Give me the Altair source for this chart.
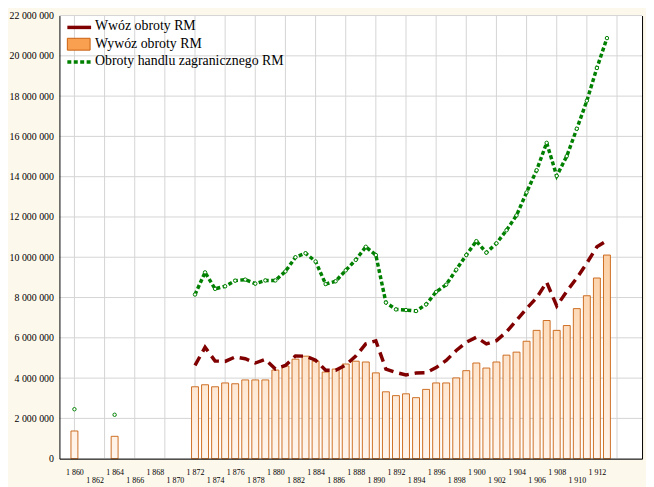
import altair as alt

# ---------------- data (values in millions RM) ----------------
years_export = [1860, 1864,
                1872, 1873, 1874, 1875, 1876, 1877, 1878, 1879, 1880, 1881,
                1882, 1883, 1884, 1885, 1886, 1887, 1888, 1889, 1890, 1891,
                1892, 1893, 1894, 1895, 1896, 1897, 1898, 1899, 1900, 1901,
                1902, 1903, 1904, 1905, 1906, 1907, 1908, 1909, 1910, 1911,
                1912, 1913]
export_m = [1.375, 1.11,
            3.57, 3.67, 3.57, 3.76, 3.72, 3.91, 3.91, 3.91, 4.40, 4.60,
            4.94, 5.09, 4.84, 4.30, 4.45, 4.70, 4.84, 4.80, 4.26, 3.32,
            3.13, 3.22, 3.03, 3.44, 3.76, 3.76, 4.01, 4.37, 4.75, 4.50,
            4.80, 5.14, 5.29, 5.83, 6.37, 6.86, 6.37, 6.61, 7.45, 8.09,
            8.97, 10.11]

years_import = [1872, 1873, 1874, 1875, 1876, 1877, 1878, 1879, 1880, 1881,
                1882, 1883, 1884, 1885, 1886, 1887, 1888, 1889, 1890, 1891,
                1892, 1893, 1894, 1895, 1896, 1897, 1898, 1899, 1900, 1901,
                1902, 1903, 1904, 1905, 1906, 1907, 1908, 1909, 1910, 1911,
                1912, 1913]
import_m = [4.63, 5.53, 4.85, 4.83, 5.05, 4.96, 4.75, 4.93, 4.45, 4.63,
            5.10, 5.09, 4.89, 4.39, 4.39, 4.65, 5.09, 5.70, 5.85, 4.45,
            4.28, 4.16, 4.25, 4.27, 4.52, 4.88, 5.37, 5.78, 6.03, 5.70,
            5.86, 6.30, 6.87, 7.45, 7.99, 8.76, 7.58, 8.31, 8.97, 9.71,
            10.52, 10.82]

years_total = years_export
total_m = [2.455, 2.18,
           8.15, 9.25, 8.43, 8.56, 8.84, 8.89, 8.69, 8.85, 8.85, 9.30,
           10.00, 10.20, 9.79, 8.67, 8.81, 9.35, 9.87, 10.52, 10.11, 7.75,
           7.41, 7.38, 7.33, 7.66, 8.28, 8.64, 9.38, 10.11, 10.80, 10.23,
           10.69, 11.34, 12.08, 13.22, 14.32, 15.68, 14.04, 15.02, 16.38, 17.77,
           19.40, 20.88]

y_ticks = [0, 2e6, 4e6, 6e6, 8e6, 10e6, 12e6, 14e6, 16e6, 18e6, 20e6, 22e6]
grid_years = [1860, 1863, 1866, 1869, 1872, 1875, 1878, 1881, 1884, 1887, 1890,
              1893, 1896, 1899, 1902, 1905, 1908, 1911, 1914]
label_row1 = [1860, 1864, 1868, 1872, 1876, 1880, 1884, 1888, 1892, 1896,
              1900, 1904, 1908, 1912]
label_row2 = [1862, 1866, 1870, 1874, 1878, 1882, 1886, 1890, 1894, 1898,
              1902, 1906, 1910]

legend_labels = ["Wwóz obroty RM", "Wywóz obroty RM", "Obroty handlu zagranicznego RM"]

# ---------------- style ----------------
BG = "#fdf8ec"
FONT = "Liberation Serif"
RED = "#800000"
GREEN = "#008000"
BAR_STROKE = "#c8600f"
GRID = "#d4d4d4"
W, H = 589, 448


def mix(t):
    pale = (255, 245, 237)
    org = (249, 172, 95)
    c = [round(p + (o - p) * t) for p, o in zip(pale, org)]
    return "#%02x%02x%02x" % tuple(c)


bar_rows = []
for yr, v in zip(years_export, export_m):
    t = min(v / 20.0, 1.0)
    bar_rows.append({
        "year": yr,
        "value": v * 1e6,
        "grad": {"gradient": "linear", "x1": 0, "y1": 0, "x2": 0, "y2": 1,
                 "stops": [{"offset": 0, "color": mix(t)},
                           {"offset": 1, "color": mix(0.0)}]},
    })
imp_rows = [{"year": yr, "value": v * 1e6} for yr, v in zip(years_import, import_m)]
tot_rows = [{"year": yr, "value": v * 1e6} for yr, v in zip(years_total, total_m)]
tot_line_rows = [r for r in tot_rows if r["year"] >= 1872]

xscale = alt.Scale(domain=[1859, 1916], nice=False, zero=False)
yscale = alt.Scale(domain=[0, 22e6], nice=False)

one = alt.Data(values=[{"k": 0}])

# white plot-area background
plot_bg = alt.Chart(one).mark_rect(fill="white", strokeWidth=0).encode(
    x=alt.value(0), x2=alt.value(W), y=alt.value(0), y2=alt.value(H))

# grid lines drawn as rules through the scales
ygrid = alt.Chart(alt.Data(values=[{"v": v} for v in y_ticks])).mark_rule(
    color=GRID, strokeWidth=1
).encode(y=alt.Y("v:Q", scale=yscale, axis=None))
xgrid = alt.Chart(alt.Data(values=[{"v": v} for v in grid_years])).mark_rule(
    color=GRID, strokeWidth=1
).encode(x=alt.X("v:Q", scale=xscale, axis=None))

bars = alt.Chart(alt.Data(values=bar_rows)).mark_bar(
    size=7, stroke=BAR_STROKE, strokeWidth=0.9
).encode(
    x=alt.X("year:Q", scale=xscale,
            axis=alt.Axis(orient="bottom", values=grid_years, labels=False, grid=False,
                          domainColor="black", ticks=False, title=None, zindex=1)),
    y=alt.Y("value:Q", scale=yscale,
            axis=alt.Axis(orient="left", values=y_ticks, grid=False,
                          domainColor="black", tickSize=0, labelPadding=6,
                          labelFont=FONT, labelFontSize=10, labelColor="black",
                          format=",d", title=None, zindex=1)),
    fill=alt.Fill("grad:N", scale=None, legend=None),
)

red = alt.Chart(alt.Data(values=imp_rows)).mark_line(
    color=RED, strokeWidth=3.5, strokeDash=[10, 6]
).encode(
    x=alt.X("year:Q", scale=xscale,
            axis=alt.Axis(orient="bottom", values=label_row1, grid=False, domain=False,
                          ticks=False, labelPadding=10, labelFont=FONT, labelFontSize=8,
                          labelColor="black", format=",d", title=None, zindex=1)),
    y=alt.Y("value:Q", scale=yscale,
            axis=alt.Axis(orient="right", labels=False, grid=False, ticks=False,
                          domainColor="black", title=None, zindex=1)),
)

green = alt.Chart(alt.Data(values=tot_line_rows)).mark_line(
    color=GREEN, strokeWidth=3.5, strokeDash=[4, 2.5]
).encode(
    x=alt.X("year:Q", scale=xscale,
            axis=alt.Axis(orient="bottom", values=label_row2, grid=False, domain=False,
                          ticks=False, labelPadding=18, labelFont=FONT, labelFontSize=8,
                          labelColor="black", format=",d", title=None, zindex=1)),
    y=alt.Y("value:Q", scale=yscale, axis=None),
)

pts = alt.Chart(alt.Data(values=tot_rows)).mark_point(
    shape="circle", size=12, filled=True, fill="white", stroke=GREEN, strokeWidth=1, opacity=1
).encode(
    x=alt.X("year:Q", scale=xscale, axis=None),
    y=alt.Y("value:Q", scale=yscale, axis=None),
)

leg_red = alt.Chart(one).mark_rule(color=RED, strokeWidth=3.5).encode(
    x=alt.value(8), x2=alt.value(32), y=alt.value(12))
leg_rect = alt.Chart(one).mark_rect(fill="#f9a050", stroke=BAR_STROKE, strokeWidth=1).encode(
    x=alt.value(8), x2=alt.value(31), y=alt.value(23), y2=alt.value(35))
leg_green = alt.Chart(one).mark_rule(color=GREEN, strokeWidth=3.5, strokeDash=[4, 2.5]).encode(
    x=alt.value(8), x2=alt.value(32), y=alt.value(47))
leg_texts = [
    alt.Chart(one).mark_text(align="left", baseline="middle", font=FONT, fontSize=14,
                             color="black").encode(
        x=alt.value(36), y=alt.value(yy), text=alt.value(lbl))
    for lbl, yy in zip(legend_labels, [11, 29, 46])
]

chart = alt.layer(
    plot_bg, ygrid, xgrid, bars, red, green, pts,
    leg_red, leg_rect, leg_green, *leg_texts
).resolve_axis(
    x="independent", y="independent"
).properties(
    width=W, height=H, background=BG,
    padding={"left": 52, "top": 5, "right": 4, "bottom": 26},
    autosize=alt.AutoSizeParams(type="none"),
).configure(
    locale={"number": {"decimal": ",", "thousands": " ", "grouping": [3],
                       "currency": ["", ""]}},
    view=alt.ViewConfig(fill="white", stroke=None),
    axis=alt.AxisConfig(labelFont=FONT, labelColor="black", domainWidth=1),
)

chart.save("out.html", embed_options={"renderer": "svg", "actions": False})
